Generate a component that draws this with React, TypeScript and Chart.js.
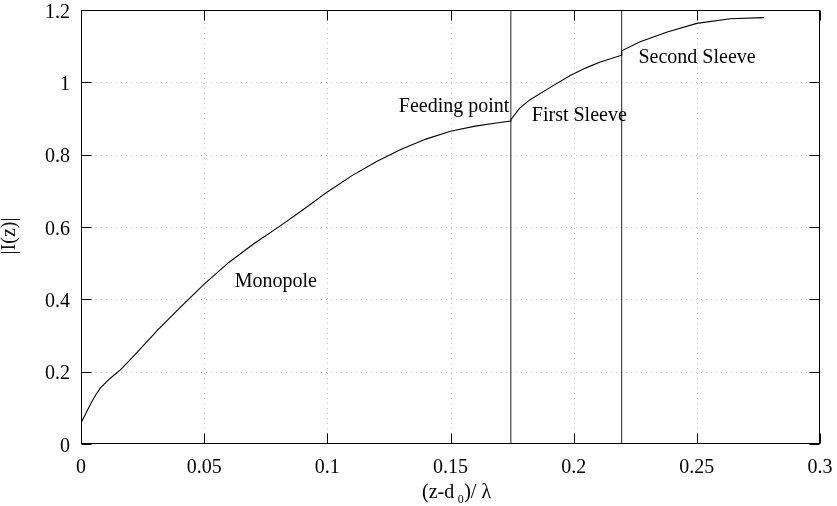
import React, { useEffect, useRef } from "react";
import { Chart, registerables } from "chart.js";

Chart.register(...registerables);

// Current distribution |I(z)| along the antenna
const curveX = [
  0, 0.002, 0.004, 0.006, 0.008, 0.0105, 0.013, 0.016, 0.02, 0.024, 0.031, 0.04, 0.05, 0.06, 0.07, 0.08,
  0.09, 0.1, 0.11, 0.12, 0.13, 0.14, 0.15, 0.16, 0.17, 0.1745,
  0.1745, 0.178, 0.1823, 0.19, 0.1986, 0.205, 0.2108, 0.2195,
  0.2195, 0.227, 0.238, 0.25, 0.2636, 0.2772,
];
const curveY = [
  0.058, 0.085, 0.112, 0.136, 0.156, 0.173, 0.188, 0.205, 0.233, 0.262, 0.314, 0.376, 0.442, 0.502, 0.553, 0.599,
  0.647, 0.697, 0.742, 0.781, 0.815, 0.843, 0.865, 0.879, 0.889, 0.893,
  0.897, 0.928, 0.952, 0.984, 1.019, 1.04, 1.056, 1.075,
  1.087, 1.112, 1.139, 1.163, 1.176, 1.179,
];

// Vertical markers (feeding point / sleeve ends)
const markerX = [0.1745, 0.2195];

// Axis ranges and tick steps
const xRange = [0, 0.3];
const yRange = [0, 1.2];
const xStep = 0.05;
const yStep = 0.2;

// Annotation labels (left-baseline anchor in data units)
const labelTexts = ["Monopole", "Feeding point", "First Sleeve", "Second Sleeve"];
const labelX = [0.0624, 0.129, 0.183, 0.2263];
const labelY = [0.435, 0.918, 0.892, 1.053];

const yTitle = "|I(z)|";

const SERIF = "'Liberation Serif', 'DejaVu Serif', 'Times New Roman', serif";

const fmt = (v: number) => String(Number(v.toFixed(2)));

const decorPlugin = {
  id: "decor",
  beforeDatasetsDraw(chart: any) {
    const { ctx, chartArea, scales } = chart;
    const { left, right, top, bottom } = chartArea;
    ctx.save();
    ctx.strokeStyle = "#c4c4c4";
    ctx.lineWidth = 1;
    ctx.setLineDash([1, 4]);
    scales.x.ticks.forEach((t: any) => {
      if (t.value <= xRange[0] + 1e-9 || t.value >= xRange[1] - 1e-9) return;
      const px = Math.round(scales.x.getPixelForValue(t.value)) + 0.5;
      ctx.beginPath();
      ctx.moveTo(px, bottom);
      ctx.lineTo(px, top);
      ctx.stroke();
    });
    scales.y.ticks.forEach((t: any) => {
      if (t.value <= yRange[0] + 1e-9 || t.value >= yRange[1] - 1e-9) return;
      const py = Math.round(scales.y.getPixelForValue(t.value)) + 0.5;
      ctx.beginPath();
      ctx.moveTo(left, py);
      ctx.lineTo(right, py);
      ctx.stroke();
    });
    ctx.restore();
  },
  afterDatasetsDraw(chart: any) {
    const { ctx, chartArea, scales } = chart;
    const { left, right, top, bottom } = chartArea;
    const L = Math.round(left) + 0.5;
    const R = Math.round(right) - 0.5;
    const T = Math.round(top) + 0.5;
    const B = Math.round(bottom) - 0.5;
    ctx.save();
    ctx.setLineDash([]);
    ctx.strokeStyle = "#000";
    ctx.lineWidth = 1;
    ctx.strokeRect(L, T, R - L, B - T);
    const tl = 10;
    ctx.beginPath();
    scales.x.ticks.forEach((t: any) => {
      const px = Math.round(scales.x.getPixelForValue(t.value)) + 0.5;
      ctx.moveTo(px, B);
      ctx.lineTo(px, B - tl);
      ctx.moveTo(px, T);
      ctx.lineTo(px, T + tl);
    });
    scales.y.ticks.forEach((t: any) => {
      const py = Math.round(scales.y.getPixelForValue(t.value)) + 0.5;
      ctx.moveTo(L, py);
      ctx.lineTo(L + tl, py);
      ctx.moveTo(R, py);
      ctx.lineTo(R - tl, py);
    });
    ctx.stroke();

    // annotations
    ctx.fillStyle = "#000";
    ctx.font = `20px ${SERIF}`;
    ctx.textAlign = "left";
    ctx.textBaseline = "alphabetic";
    labelTexts.forEach((txt, i) => {
      ctx.fillText(txt, scales.x.getPixelForValue(labelX[i]), scales.y.getPixelForValue(labelY[i]));
    });

    // y title
    ctx.save();
    ctx.translate(10, 236);
    ctx.rotate(-Math.PI / 2);
    ctx.textAlign = "center";
    ctx.textBaseline = "middle";
    ctx.font = `20px ${SERIF}`;
    ctx.fillStyle = "#111";
    ctx.fillText(yTitle, 0, 0);
    ctx.restore();

    // x title: (z-d_0)/ λ
    const bx = 422;
    const by = 498;
    ctx.textAlign = "left";
    ctx.textBaseline = "alphabetic";
    ctx.font = `20px ${SERIF}`;
    ctx.fillText("(z-d", bx, by);
    const w1 = ctx.measureText("(z-d").width;
    ctx.font = `12px ${SERIF}`;
    ctx.fillText("0", bx + w1 + 3.5, by + 5);
    const w2 = ctx.measureText("0").width;
    ctx.font = `20px ${SERIF}`;
    ctx.fillText(")/ \u03bb", bx + w1 + 3.5 + w2 + 0.5, by);
    ctx.restore();
  },
};

export default function App() {
  const ref = useRef<HTMLCanvasElement | null>(null);
  useEffect(() => {
    if (!ref.current) return;
    const curve = curveX.map((x, i) => ({ x, y: curveY[i] }));
    const markers = markerX.map((x) => ({
      type: "scatter" as const,
      data: [
        { x, y: yRange[0] },
        { x, y: yRange[1] },
      ],
      showLine: true,
      borderColor: "#222",
      borderWidth: 1,
      pointRadius: 0,
    }));
    const chart = new Chart(ref.current, {
      type: "scatter",
      data: {
        datasets: [
          {
            data: curve,
            showLine: true,
            borderColor: "#000",
            borderWidth: 1.1,
            pointRadius: 0,
            tension: 0,
          },
          ...markers,
        ],
      },
      options: {
        animation: false,
        responsive: false,
        events: [],
        layout: { padding: { left: 0, right: 17, top: 10, bottom: 0 } },
        plugins: { legend: { display: false }, tooltip: { enabled: false } },
        scales: {
          x: {
            type: "linear",
            min: xRange[0],
            max: xRange[1],
            grid: { display: false, drawTicks: false },
            border: { display: false },
            ticks: {
              stepSize: xStep,
              autoSkip: false,
              maxRotation: 0,
              padding: 14,
              color: "#000",
              font: { family: SERIF, size: 20, lineHeight: 1 },
              callback: (v: any) => fmt(Number(v)),
            },
            afterFit: (s: any) => {
              s.height = 62;
              s.paddingLeft = 0;
              s.paddingRight = 0;
              s.paddingTop = 0;
              s.paddingBottom = 0;
            },
          },
          y: {
            type: "linear",
            min: yRange[0],
            max: yRange[1],
            grid: { display: false, drawTicks: false },
            border: { display: false },
            ticks: {
              stepSize: yStep,
              autoSkip: false,
              padding: 11,
              labelOffset: 2.5,
              color: "#000",
              font: { family: SERIF, size: 20, lineHeight: 1 },
              callback: (v: any) => fmt(Number(v)),
            },
            afterFit: (s: any) => {
              s.width = 81;
              s.paddingLeft = 0;
              s.paddingRight = 0;
              s.paddingTop = 0;
              s.paddingBottom = 0;
            },
          },
        },
      },
      plugins: [decorPlugin],
    });
    return () => chart.destroy();
  }, []);
  return (
    <div style={{ position: "fixed", left: 0, top: 0, width: 837, height: 506, background: "#fff" }}>
      <canvas ref={ref} width={837} height={506} style={{ display: "block" }} />
    </div>
  );
}
